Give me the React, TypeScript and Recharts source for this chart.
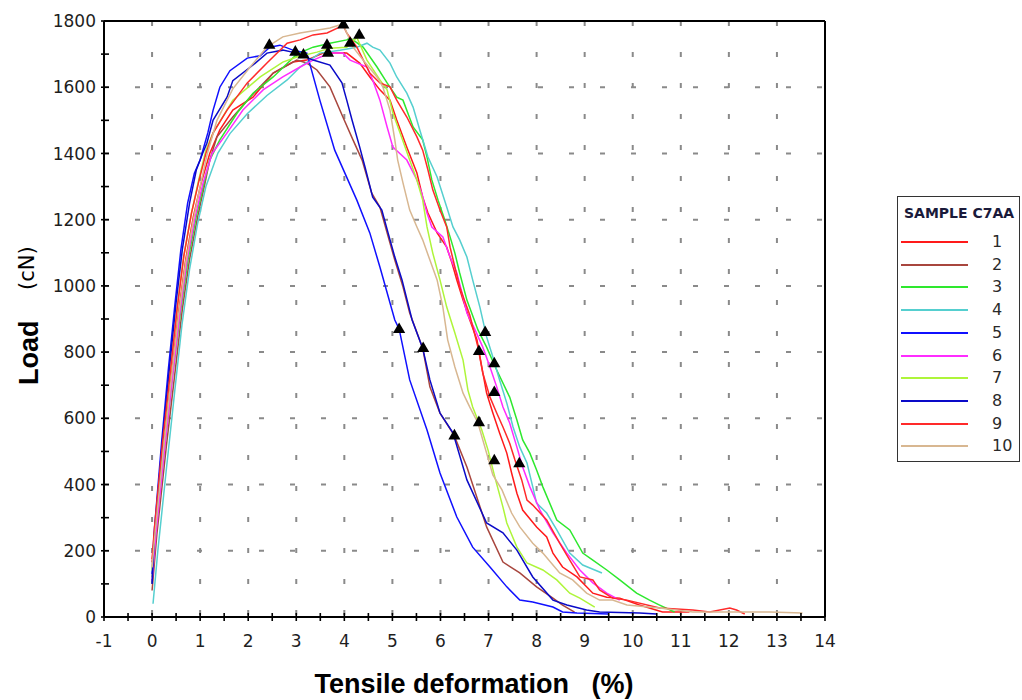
import React from 'react';
import { ComposedChart, Line, Scatter, XAxis, YAxis, CartesianGrid, Legend, ReferenceLine } from 'recharts';

type Pt = [number, number];

const sampleNames = ['1', '2', '3', '4', '5', '6', '7', '8', '9', '10'];
const sampleColors = ['#ff1a1a', '#a8463e', '#2ee82e', '#55cfcf', '#1010ff', '#ff2cff', '#aef53a', '#0a0ac8', '#ff2a2a', '#d8b791'];
const legendTitle = 'SAMPLE C7AA';

const xTicks = [-1, -0.5, 0, 0.5, 1, 1.5, 2, 2.5, 3, 3.5, 4, 4.5, 5, 5.5, 6, 6.5, 7, 7.5, 8, 8.5, 9, 9.5, 10, 10.5, 11, 11.5, 12, 12.5, 13, 13.5, 14];
const yTicks = [0, 100, 200, 300, 400, 500, 600, 700, 800, 900, 1000, 1100, 1200, 1300, 1400, 1500, 1600, 1700, 1800];
const gridX = [0, 1, 2, 3, 4, 5, 6, 7, 8, 9, 10, 11, 12, 13];
const gridY = [200, 400, 600, 800, 1000, 1200, 1400, 1600];

const sample1: Pt[] = [[0, 165], [0.06, 260], [0.24, 520], [0.4, 730], [0.55, 920], [0.7, 1080], [0.86, 1210], [1.02, 1310], [1.2, 1400], [1.41, 1471], [1.68, 1531], [2.1, 1570], [2.52, 1643], [2.93, 1676], [3.22, 1682], [3.56, 1703], [4.05, 1703], [4.32, 1673], [4.53, 1631], [4.74, 1592], [4.95, 1561], [5.09, 1501], [5.3, 1419], [5.51, 1341], [5.63, 1268], [5.74, 1220], [5.93, 1160], [6.13, 1117], [6.24, 1069], [6.34, 1018], [6.47, 957], [6.61, 897], [6.76, 837], [6.86, 755], [6.96, 676], [7.09, 616], [7.23, 556], [7.38, 495], [7.48, 435], [7.59, 374], [7.71, 323], [8.0, 272], [8.21, 242], [8.34, 193], [8.54, 151], [8.84, 121], [9.17, 72], [9.46, 60], [9.73, 57], [10.14, 36], [10.62, 15], [11.18, 15]];
const sample2: Pt[] = [[0, 80], [0.1, 250], [0.3, 520], [0.47, 730], [0.63, 930], [0.78, 1080], [0.95, 1210], [1.1, 1310], [1.2, 1380], [1.35, 1450], [1.68, 1510], [2.04, 1570], [2.52, 1643], [3.01, 1682], [3.22, 1673], [3.43, 1652], [3.7, 1601], [3.97, 1510], [4.18, 1441], [4.37, 1380], [4.57, 1280], [4.74, 1238], [4.89, 1160], [5.05, 1078], [5.22, 997], [5.36, 918], [5.63, 812], [5.78, 695], [5.99, 616], [6.28, 550], [6.55, 453], [6.96, 272], [7.3, 166], [7.65, 133], [8.0, 91], [8.34, 57], [8.54, 36], [8.79, 15]];
const sample3: Pt[] = [[0, 120], [0.08, 260], [0.27, 520], [0.43, 730], [0.6, 930], [0.75, 1080], [0.92, 1210], [1.08, 1310], [1.2, 1380], [1.41, 1441], [1.77, 1522], [2.1, 1582], [2.52, 1631], [2.87, 1680], [3.01, 1700], [3.35, 1721], [3.7, 1733], [4.05, 1743], [4.12, 1749], [4.39, 1721], [4.68, 1661], [4.89, 1613], [5.09, 1570], [5.22, 1561], [5.43, 1480], [5.63, 1441], [5.72, 1389], [5.82, 1320], [5.95, 1259], [6.09, 1199], [6.2, 1148], [6.3, 1099], [6.4, 1039], [6.55, 957], [6.78, 867], [6.96, 815], [7.17, 746], [7.44, 664], [7.59, 595], [7.71, 535], [7.86, 495], [8.0, 444], [8.13, 393], [8.42, 293], [8.69, 263], [8.96, 193], [9.17, 172], [9.46, 142], [9.73, 112], [10.08, 72], [10.35, 51], [10.56, 36], [10.87, 15]];
const sample4: Pt[] = [[0.02, 40], [0.12, 200], [0.3, 450], [0.47, 680], [0.62, 880], [0.78, 1050], [0.95, 1190], [1.12, 1300], [1.37, 1401], [1.62, 1460], [1.98, 1520], [2.39, 1575], [2.81, 1622], [3.08, 1661], [3.49, 1703], [3.91, 1712], [4.26, 1721], [4.47, 1733], [4.59, 1721], [4.74, 1712], [4.95, 1673], [5.09, 1631], [5.3, 1582], [5.43, 1540], [5.57, 1471], [5.74, 1389], [5.93, 1329], [6.13, 1238], [6.26, 1178], [6.4, 1139], [6.55, 1087], [6.67, 1018], [6.82, 936], [6.96, 846], [7.09, 785], [7.23, 716], [7.38, 646], [7.51, 574], [7.65, 513], [7.8, 465], [7.92, 393], [8.0, 344], [8.21, 314], [8.42, 263], [8.69, 193], [8.96, 157], [9.36, 133]];
const sample5: Pt[] = [[0, 130], [0.04, 250], [0.2, 530], [0.34, 750], [0.48, 950], [0.6, 1110], [0.74, 1250], [0.88, 1340], [1.0, 1380], [1.16, 1462], [1.27, 1531], [1.41, 1600], [1.62, 1650], [1.98, 1688], [2.25, 1695], [2.45, 1721], [2.66, 1727], [2.93, 1712], [3.22, 1703], [3.49, 1561], [3.8, 1410], [4.26, 1259], [4.53, 1160], [4.74, 1057], [5.05, 897], [5.14, 870], [5.36, 716], [5.72, 565], [5.99, 435], [6.34, 302], [6.67, 211], [7.03, 151], [7.38, 91], [7.65, 51], [7.92, 45], [8.34, 30], [8.54, 15], [8.84, 12], [9.5, 9]];
const sample6: Pt[] = [[0, 110], [0.08, 250], [0.27, 520], [0.43, 730], [0.58, 920], [0.73, 1080], [0.9, 1210], [1.06, 1310], [1.25, 1400], [1.56, 1462], [1.89, 1531], [2.31, 1592], [2.72, 1631], [3.08, 1661], [3.35, 1682], [3.7, 1703], [3.97, 1703], [4.12, 1682], [4.47, 1661], [4.59, 1622], [4.74, 1561], [4.89, 1480], [5.01, 1419], [5.3, 1380], [5.51, 1320], [5.61, 1280], [5.72, 1220], [5.82, 1178], [6.05, 1148], [6.2, 1087], [6.34, 1039], [6.45, 978], [6.55, 918], [6.72, 867], [6.88, 815], [7.03, 755], [7.17, 695], [7.3, 634], [7.44, 586], [7.59, 513], [7.71, 453], [7.86, 393], [8.07, 323], [8.34, 254], [8.63, 193], [8.9, 142], [9.17, 103], [9.46, 72], [9.73, 51]];
const sample7: Pt[] = [[0, 140], [0.05, 250], [0.22, 520], [0.37, 730], [0.52, 930], [0.66, 1090], [0.82, 1220], [0.97, 1320], [1.12, 1410], [1.27, 1462], [1.68, 1561], [2.25, 1631], [2.72, 1676], [3.01, 1691], [3.43, 1706], [3.7, 1718], [4.05, 1721], [4.26, 1750], [4.47, 1682], [4.74, 1622], [4.89, 1592], [5.01, 1522], [5.16, 1462], [5.36, 1380], [5.51, 1320], [5.63, 1259], [5.72, 1178], [5.84, 1099], [5.99, 1018], [6.13, 936], [6.3, 858], [6.47, 776], [6.57, 686], [6.67, 634], [6.86, 565], [6.99, 504], [7.13, 423], [7.3, 332], [7.38, 284], [7.59, 211], [7.8, 163], [8.13, 142], [8.42, 112], [8.69, 72], [8.9, 57], [9.21, 30]];
const sample8: Pt[] = [[0, 100], [0.05, 250], [0.22, 540], [0.36, 750], [0.5, 950], [0.63, 1110], [0.78, 1250], [0.92, 1350], [1.05, 1400], [1.14, 1431], [1.27, 1501], [1.56, 1570], [1.68, 1620], [2.1, 1667], [2.39, 1703], [2.72, 1712], [3.01, 1703], [3.35, 1682], [3.7, 1667], [3.95, 1613], [4.05, 1561], [4.16, 1501], [4.32, 1419], [4.43, 1359], [4.59, 1268], [4.78, 1229], [4.91, 1160], [5.05, 1087], [5.2, 1018], [5.41, 897], [5.63, 812], [5.78, 716], [5.99, 616], [6.26, 556], [6.55, 414], [6.96, 284], [7.3, 254], [7.59, 202], [7.92, 121], [8.34, 51], [8.63, 36], [9.04, 21], [9.31, 15], [10.14, 12], [10.5, 9]];
const sample9: Pt[] = [[0, 175], [0.05, 270], [0.22, 530], [0.38, 740], [0.52, 930], [0.66, 1090], [0.82, 1220], [0.98, 1320], [1.12, 1400], [1.27, 1462], [1.56, 1531], [1.98, 1613], [2.39, 1673], [2.81, 1733], [3.08, 1743], [3.35, 1758], [3.64, 1764], [3.91, 1782], [3.97, 1788], [4.05, 1764], [4.26, 1721], [4.53, 1643], [4.74, 1613], [4.95, 1601], [5.09, 1561], [5.3, 1510], [5.51, 1450], [5.63, 1410], [5.74, 1350], [5.84, 1290], [5.99, 1229], [6.13, 1178], [6.2, 1117], [6.3, 1057], [6.4, 997], [6.55, 936], [6.61, 912], [6.78, 815], [6.88, 737], [7.03, 664], [7.17, 616], [7.3, 574], [7.44, 525], [7.55, 474], [7.69, 414], [7.8, 353], [7.92, 338], [8.21, 293], [8.48, 223], [8.69, 172], [8.9, 121], [9.17, 112], [9.31, 82], [9.58, 57], [9.88, 51], [10.56, 27], [11.25, 21], [11.6, 15], [12.02, 27], [12.16, 21], [12.33, 9]];
const sample10: Pt[] = [[0, 150], [0.06, 250], [0.24, 510], [0.4, 720], [0.55, 910], [0.7, 1070], [0.86, 1200], [1.0, 1300], [1.15, 1400], [1.35, 1500], [1.68, 1595], [2.04, 1661], [2.39, 1721], [2.72, 1752], [3.08, 1764], [3.7, 1779], [3.97, 1791], [4.18, 1721], [4.39, 1682], [4.68, 1631], [4.8, 1601], [4.95, 1531], [5.05, 1441], [5.11, 1380], [5.22, 1311], [5.36, 1229], [5.51, 1178], [5.63, 1139], [5.78, 1078], [5.93, 1018], [6.05, 936], [6.15, 837], [6.3, 755], [6.47, 676], [6.61, 634], [6.78, 586], [6.96, 495], [7.09, 429], [7.28, 384], [7.48, 314], [7.65, 272], [7.92, 223], [8.13, 193], [8.48, 133], [8.75, 112], [9.04, 72], [9.31, 51], [9.58, 51], [9.88, 36], [10.56, 27], [11.25, 15], [12.02, 15], [12.85, 15], [13.53, 12]];

const peakMarkers: Pt[] = [[2.44, 1727], [2.98, 1706], [3.15, 1697], [3.64, 1727], [3.66, 1703], [3.98, 1788], [4.12, 1733], [4.31, 1757]];
const breakMarkers: Pt[] = [[5.14, 868], [5.64, 811], [6.93, 859], [6.8, 802], [7.12, 765], [7.12, 678], [6.8, 587], [6.29, 547], [7.12, 472], [7.64, 463]];

const allSamples: Pt[][] = [sample1, sample2, sample3, sample4, sample5, sample6, sample7, sample8, sample9, sample10];
const toRows = (pts: Pt[]) => pts.map(([x, y]) => ({ x, y }));
const markerRows = toRows([...peakMarkers, ...breakMarkers]);

const TICK_FONT = "'DejaVu Sans', Verdana, sans-serif";

const YTick = (props: any) => {
  const { x, y, payload } = props;
  const v = payload.value as number;
  return (
    <g>
      <line x1={x - 3} x2={x + 5} y1={y} y2={y} stroke="#000" strokeWidth={1.6} />
      {v % 200 === 0 && (
        <text x={x - 8} y={y} dy="0.36em" textAnchor="end" fontFamily={TICK_FONT} fontSize={17} fill="#1e1e1e">
          {v}
        </text>
      )}
    </g>
  );
};

const XTick = (props: any) => {
  const { x, y, payload } = props;
  const v = payload.value as number;
  return (
    <g>
      <line x1={x} x2={x} y1={y - 4} y2={y + 4} stroke="#000" strokeWidth={1.6} />
      {Number.isInteger(v) && (
        <text x={x} y={y + 24} dy="0.36em" textAnchor="middle" fontFamily={TICK_FONT} fontSize={17} fill="#1e1e1e">
          {v}
        </text>
      )}
    </g>
  );
};

const XTitle = () => (
  <text x={474} y={693} textAnchor="middle" fontFamily="'Liberation Sans', Arial, sans-serif" fontWeight="bold" fontSize={27} fill="#000">
    {'Tensile deformation\u00a0\u00a0\u00a0(%)'}
  </text>
);

const YTitle = () => (
  <text transform="translate(38,385) rotate(-90)" fill="#000">
    <tspan x={0} fontFamily="'Liberation Sans', Arial, sans-serif" fontWeight="bold" fontSize={27}>Load</tspan>
    <tspan x={95} dy={-4} fontFamily={TICK_FONT} fontSize={21}>(cN)</tspan>
  </text>
);

const LegendBox = (props: any) => {
  const items = (props.payload || [])
    .filter((p: any) => p.type !== 'none' && sampleNames.indexOf(String(p.value)) >= 0)
    .slice()
    .sort((a: any, b: any) => sampleNames.indexOf(String(a.value)) - sampleNames.indexOf(String(b.value)));
  return (
    <div style={{ position: 'relative', width: 123, height: 266, border: '1px solid #333', boxSizing: 'border-box', background: '#fff' }}>
      <div style={{ position: 'absolute', left: 6, top: 8, fontFamily: TICK_FONT, fontWeight: 'bold', fontSize: 14, color: '#1a1a3a', whiteSpace: 'nowrap' }}>
        {legendTitle}
      </div>
      {items.map((it: any, i: number) => (
        <div key={i} style={{ position: 'absolute', left: 0, top: 45 + i * 22.7, width: 121, height: 0 }}>
          <svg width={70} height={4} style={{ position: 'absolute', left: 3, top: -2 }}>
            <line x1={0} x2={67} y1={2} y2={2} stroke={it.color} strokeWidth={2} />
          </svg>
          <span style={{ position: 'absolute', left: 94, top: -10, fontFamily: TICK_FONT, fontSize: 16, lineHeight: '20px', color: '#2a2a2a' }}>
            {it.value}
          </span>
        </div>
      ))}
    </div>
  );
};

export default function App() {
  return (
    <div style={{ position: 'absolute', left: 0, top: 0, width: 1022, height: 700, background: '#fff' }}>
      <ComposedChart width={1022} height={700} margin={{ top: 21, right: 197, bottom: 0, left: 0 }}>
        <CartesianGrid horizontalValues={gridY} verticalValues={gridX} stroke="#8a8a8a" strokeWidth={2} strokeDasharray="5 26" />
        <XAxis
          dataKey="x"
          type="number"
          domain={[-1, 14]}
          ticks={xTicks}
          interval={0}
          height={83}
          tickSize={0}
          tickMargin={0}
          tick={<XTick />}
          axisLine={{ stroke: '#000', strokeWidth: 2 }}
          allowDataOverflow
          label={{ content: () => <XTitle /> }}
        />
        <YAxis
          dataKey="y"
          type="number"
          domain={[0, 1800]}
          ticks={yTicks}
          interval={0}
          width={104}
          tickSize={0}
          tickMargin={0}
          tick={<YTick />}
          axisLine={{ stroke: '#000', strokeWidth: 2 }}
          allowDataOverflow
          label={{ content: () => <YTitle /> }}
        />
        <ReferenceLine y={1800} stroke="#000" strokeWidth={2} />
        <ReferenceLine x={14} stroke="#000" strokeWidth={2} />
        {allSamples.map((s, i) => (
          <Line
            key={sampleNames[i]}
            name={sampleNames[i]}
            data={toRows(s)}
            dataKey="y"
            type="linear"
            stroke={sampleColors[i]}
            strokeWidth={1.5}
            dot={false}
            activeDot={false}
            isAnimationActive={false}
          />
        ))}
        <Scatter name="markers" data={markerRows} dataKey="y" fill="#000" shape="triangle" legendType="none" isAnimationActive={false} />
        <Legend
          layout="vertical"
          align="center"
          verticalAlign="middle"
          itemSorter={null as any}
          content={<LegendBox />}
          wrapperStyle={{ left: 897, top: 196, width: 123, height: 266 }}
        />
      </ComposedChart>
    </div>
  );
}
